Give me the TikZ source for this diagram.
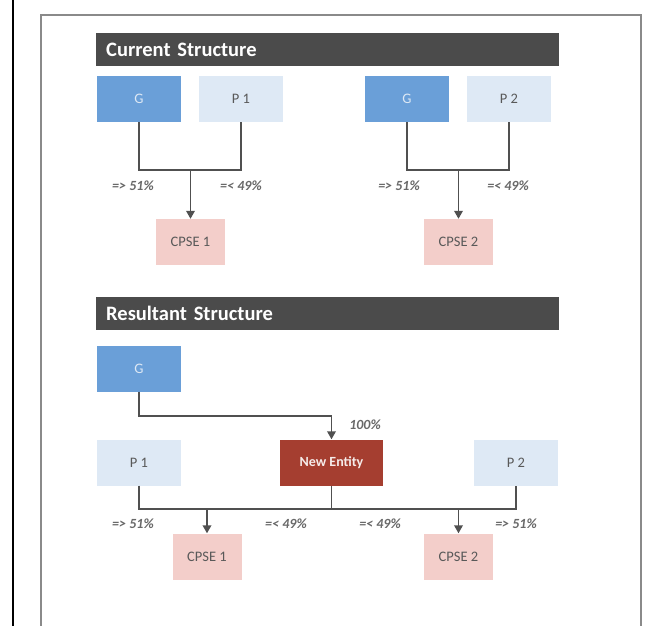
\documentclass[tikz,border=0pt]{standalone}
\usepackage{fontspec}
\setmainfont{Carlito}
\usetikzlibrary{arrows.meta}
\definecolor{barcol}{HTML}{4B4B4B}
\definecolor{gcol}{HTML}{6A9FD8}
\definecolor{pcol}{HTML}{DEE9F5}
\definecolor{ccol}{HTML}{F3CECA}
\definecolor{necol}{HTML}{A53E30}
\definecolor{linecol}{HTML}{505050}
\definecolor{txtcol}{HTML}{595959}
\definecolor{labcol}{HTML}{696969}
\definecolor{framecol}{HTML}{8A8A8A}
\tikzset{
  box/.style={minimum width=84pt, minimum height=46pt, inner sep=0pt, font=\fontsize{14.5}{16}\selectfont},
  gbox/.style={box, fill=gcol, text=pcol},
  pbox/.style={box, fill=pcol, text=txtcol},
  cbox/.style={box, minimum width=69pt, fill=ccol, text=txtcol},
  nebox/.style={box, minimum width=103pt, fill=necol, text=white!90!necol, font=\fontsize{14}{16}\selectfont\bfseries},
  titlebar/.style={fill=barcol, text=white, anchor=west, minimum height=33pt, inner xsep=10pt, text width=443pt, align=left, font=\fontsize{20.5}{23}\selectfont\bfseries},
  lab/.style={text=labcol, font=\fontsize{14}{16}\selectfont\bfseries\itshape, inner sep=0pt},
  conn/.style={draw=linecol, line width=1.8pt},
  arr/.style={conn, -{Triangle[width=8.5pt,length=8pt]}}
}
\begin{document}
\begin{tikzpicture}[x=1pt,y=-1pt]
\useasboundingbox (0,0) rectangle (667,626);
\fill[white] (0,0) rectangle (667,626);
\draw[black, line width=1.5pt] (13,0) -- (13,626);
\draw[framecol, line width=1.2pt] (41,626) -- (41,15) -- (641,15) -- (641,626);

% Current structure
\node[titlebar] (t1) at (96,49.5) {Current Structure};
\node[gbox] (g1) at (139,99) {G};
\node[pbox] (p1) at (241,99) {P 1};
\node[gbox] (g2) at (407,99) {G};
\node[pbox] (p2) at (509,99) {P 2};
\node[cbox] (c1) at (190.5,242) {CPSE 1};
\node[cbox] (c2) at (458.5,242) {CPSE 2};
\coordinate (j1) at (190.5,170);
\coordinate (j2) at (458.5,170);
\draw[conn] (g1.south) |- (j1) -| (p1.south);
\draw[arr] (j1) -- (c1.north);
\draw[conn] (g2.south) |- (j2) -| (p2.south);
\draw[arr] (j2) -- (c2.north);
\node[lab] (l1) at (133,186) {=> 51\%};
\node[lab] (l2) at (241,186) {=< 49\%};
\node[lab] (l3) at (399,186) {=> 51\%};
\node[lab] (l4) at (508,186) {=< 49\%};

% Resultant structure
\node[titlebar] (t2) at (96,313) {Resultant Structure};
\node[gbox] (g3) at (139,368.5) {G};
\node[pbox] (p3) at (139,462.5) {P 1};
\node[nebox] (ne) at (331.5,462.5) {New Entity};
\node[pbox] (p4) at (516,462.5) {P 2};
\node[cbox] (c3) at (207,556.5) {CPSE 1};
\node[cbox] (c4) at (458.5,556.5) {CPSE 2};
\coordinate (k1) at (331.5,416);
\draw[conn] (g3.south) |- (k1);
\draw[arr] (k1) -- (ne.north);
\node[lab] (l5) at (365,425) {100\%};
\coordinate (b1) at (139,509);
\coordinate (b2) at (516,509);
\coordinate (b3) at (207,509);
\coordinate (b4) at (458.5,509);
\coordinate (b5) at (331.5,509);
\draw[conn] (p3.south) -- (b1) -- (b2) -- (p4.south);
\draw[conn] (ne.south) -- (b5);
\draw[arr] (b3) -- (c3.north);
\draw[arr] (b4) -- (c4.north);
\node[lab] (l6) at (133,524) {=> 51\%};
\node[lab] (l7) at (286,524) {=< 49\%};
\node[lab] (l8) at (380,524) {=< 49\%};
\node[lab] (l9) at (516,524) {=> 51\%};
\end{tikzpicture}
\end{document}
